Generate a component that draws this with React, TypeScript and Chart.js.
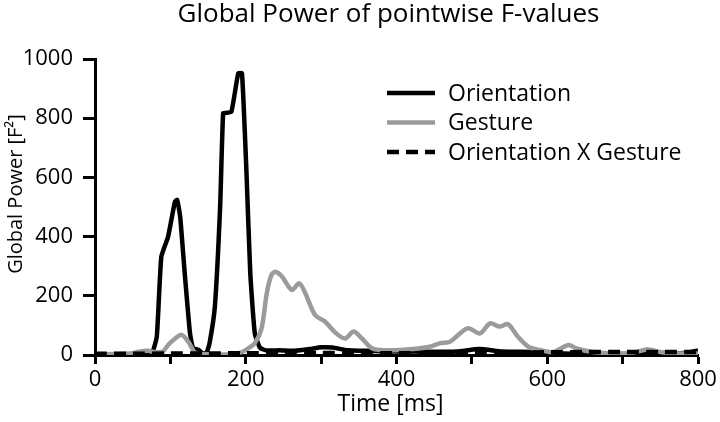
import React, { useEffect, useRef } from "react";
import { Chart, registerables } from "chart.js";

Chart.register(...registerables);

const TITLE = "Global Power of pointwise F-values";
const X_TITLE = "Time [ms]";
const Y_TITLE = "Global Power [F²]";
const SERIES_NAMES = ["Orientation", "Gesture", "Orientation X Gesture"];

const X_TICKS = [0, 100, 200, 300, 400, 500, 600, 700, 800];
const X_LABELED = [0, 200, 400, 600, 800];
const Y_TICKS = [0, 200, 400, 600, 800, 1000];

const orientationT = [0, 25, 50, 70, 76, 82, 88, 97, 106, 109, 113, 119, 126, 130, 137, 143, 148, 152, 159, 166, 170, 174, 181, 190, 195, 201, 206, 212, 219, 228, 245, 265, 285, 300, 315, 335, 360, 400, 440, 480, 510, 540, 580, 620, 650, 700, 750, 785, 800];
const orientationV = [2, 2, 2, 3, 8, 62, 332, 400, 518, 524, 467, 277, 74, 24, 18, 6, 8, 40, 163, 500, 817, 818, 822, 951, 951, 614, 277, 74, 24, 15, 16, 14, 20, 26, 25, 16, 14, 12, 11, 12, 20, 12, 10, 5, 3, 3, 3, 8, 15];

const gestureT = [0, 25, 50, 60, 70, 80, 90, 97, 106, 115, 124, 133, 145, 165, 185, 195, 203, 212, 221, 228, 234, 239, 248, 261, 271, 279, 292, 305, 320, 332, 343, 354, 367, 378, 405, 422, 444, 458, 471, 482, 495, 511, 524, 537, 548, 561, 575, 590, 608, 628, 639, 660, 690, 715, 732, 750, 775, 800];
const gestureV = [3, 3, 6, 12, 14, 10, 12, 34, 55, 68, 44, 7, 3, 2, 3, 10, 22, 40, 90, 210, 270, 281, 265, 220, 242, 209, 135, 113, 73, 56, 79, 56, 23, 17, 17, 20, 28, 40, 45, 68, 90, 73, 107, 96, 104, 62, 28, 17, 10, 34, 22, 10, 5, 8, 19, 10, 5, 5];

const interactionT = [0, 50, 100, 150, 200, 250, 300, 350, 400, 450, 500, 550, 600, 650, 700, 750, 800];
const interactionV = [4, 4, 5, 5, 6, 6, 7, 6, 6, 6, 7, 8, 9, 10, 10, 10, 10];

const toPoints = (t: number[], v: number[]) => t.map((x, i) => ({ x, y: v[i] }));

export default function App() {
  const ref = useRef<HTMLCanvasElement>(null);

  useEffect(() => {
    document.body.style.margin = "0";
    const FONT = "'Open Sans', sans-serif";
    const canvas = ref.current;
    if (!canvas) return;

    const textPlugin = {
      id: "textPlugin",
      afterDraw(chart: any) {
        const ctx = chart.ctx;
        const a = chart.chartArea;
        ctx.save();
        ctx.fillStyle = "#000";
        // title
        ctx.font = `26px ${FONT}`;
        ctx.textAlign = "center";
        ctx.textBaseline = "alphabetic";
        ctx.fillText(TITLE, (a.left + a.right) / 2 - 8, 22);
        // x title
        ctx.font = `23px ${FONT}`;
        ctx.textBaseline = "middle";
        ctx.fillText(X_TITLE, (a.left + a.right) / 2 - 6, 404);
        // y title
        ctx.save();
        ctx.translate(16, (a.top + a.bottom) / 2 - 13);
        ctx.rotate(-Math.PI / 2);
        ctx.font = `20px ${FONT}`;
        ctx.fillText(Y_TITLE, 0, 0);
        ctx.restore();
        // legend
        const ds = chart.data.datasets;
        ctx.font = `23px ${FONT}`;
        ctx.textAlign = "left";
        ctx.textBaseline = "middle";
        for (let i = 0; i < ds.length; i++) {
          const y = 93 + i * 29.5;
          ctx.beginPath();
          ctx.strokeStyle = ds[i].borderColor;
          ctx.lineWidth = ds[i].borderWidth;
          ctx.setLineDash(ds[i].borderDash || []);
          ctx.moveTo(387, y);
          ctx.lineTo(435, y);
          ctx.stroke();
          ctx.setLineDash([]);
          ctx.fillText(ds[i].label, 448, y + 1);
        }
        ctx.restore();
      },
    };

    const chart = new Chart(canvas, {
      type: "line",
      data: {
        datasets: [
          {
            label: SERIES_NAMES[0],
            data: toPoints(orientationT, orientationV),
            borderColor: "#000000",
            borderWidth: 4.5,
            pointRadius: 0,
            tension: 0.15,
            order: 2,
          },
          {
            label: SERIES_NAMES[1],
            data: toPoints(gestureT, gestureV),
            borderColor: "#9b9b9b",
            borderWidth: 4.5,
            pointRadius: 0,
            tension: 0.3,
            order: 1,
          },
          {
            label: SERIES_NAMES[2],
            data: toPoints(interactionT, interactionV),
            borderColor: "#000000",
            borderWidth: 4.5,
            borderDash: [12, 7],
            pointRadius: 0,
            tension: 0.2,
            order: 0,
          },
        ],
      },
      options: {
        responsive: false,
        animation: false,
        layout: { padding: { top: 59, right: 22, bottom: 0, left: 0 } },
        plugins: {
          legend: { display: false },
          title: { display: false },
          tooltip: { enabled: false },
        },
        scales: {
          x: {
            type: "linear",
            min: 0,
            max: 800,
            afterFit: (s: any) => {
              s.height = 67;
            },
            afterBuildTicks: (s: any) => {
              s.ticks = X_TICKS.map((value) => ({ value }));
            },
            border: { display: true, color: "#000", width: 3 },
            grid: {
              display: true,
              drawOnChartArea: false,
              drawTicks: true,
              tickLength: 9,
              tickWidth: 3,
              tickColor: "#000",
            },
            ticks: {
              color: "#000",
              font: { family: FONT, size: 22 },
              padding: 3,
              maxRotation: 0,
              autoSkip: false,
              callback: (v: any) => (X_LABELED.includes(Number(v)) ? String(v) : ""),
            },
          },
          y: {
            type: "linear",
            min: 0,
            max: 1000,
            afterFit: (s: any) => {
              s.width = 95;
            },
            afterBuildTicks: (s: any) => {
              s.ticks = Y_TICKS.map((value) => ({ value }));
            },
            border: { display: true, color: "#000", width: 3 },
            grid: {
              display: true,
              drawOnChartArea: false,
              drawTicks: true,
              tickLength: 12,
              tickWidth: 3,
              tickColor: "#000",
            },
            ticks: {
              color: "#000",
              font: { family: FONT, size: 22 },
              padding: 10,
              autoSkip: false,
              callback: (v: any) => String(v),
            },
          },
        },
      },
      plugins: [textPlugin],
    });

    return () => chart.destroy();
  }, []);

  return (
    <div style={{ width: 720, height: 422 }}>
      <canvas ref={ref} width={720} height={422} style={{ display: "block" }} />
    </div>
  );
}
